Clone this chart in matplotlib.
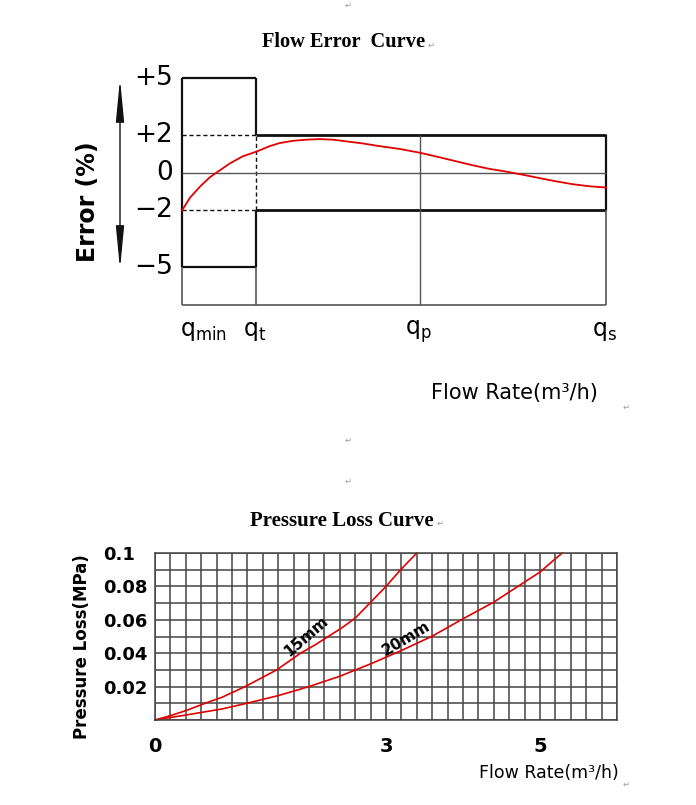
import numpy as np
import matplotlib
matplotlib.use('Agg')
import matplotlib.pyplot as plt

plt.rcParams['mathtext.default'] = 'regular'
SANS = ['DejaVu Sans']
SERIF = ['Liberation Serif', 'DejaVu Serif']

# ---- Flow error curve data (x: qmin=0, qt~1, qp~3.2, qs=5.65) ----
q_names = [r'q$_{min}$', r'q$_t$', r'q$_p$', r'q$_s$']
q_pos = [0.0, 0.99, 3.175, 5.65]
err_ticks = [5, 2, 0, -2, -5]
err_tick_labels = ['+5', '+2', '0', '\u22122', '\u22125']
err_x = [0.0, 0.106, 0.24, 0.37, 0.46, 0.64, 0.81, 1.0, 1.17, 1.30, 1.48, 1.66,
         1.83, 2.01, 2.19, 2.41, 2.63, 2.90, 3.17, 3.43, 3.65, 3.87, 4.09, 4.31,
         4.53, 4.75, 4.98, 5.20, 5.42, 5.65]
err_y = [-2.0, -1.33, -0.74, -0.25, 0.0, 0.49, 0.86, 1.12, 1.40, 1.56, 1.68, 1.74,
         1.77, 1.74, 1.65, 1.54, 1.40, 1.25, 1.05, 0.81, 0.60, 0.39, 0.20, 0.06,
         -0.105, -0.28, -0.46, -0.61, -0.72, -0.79]

# ---- Pressure loss data ----
p15_x = [0, 0.2, 0.4, 0.65, 0.87, 1.17, 1.58, 1.89, 2.08, 2.25, 2.42, 2.6, 2.79, 3.0, 3.19, 3.4]
p15_y = [0, 0.0026, 0.0056, 0.010, 0.0136, 0.020, 0.030, 0.040, 0.045, 0.050,
         0.055, 0.061, 0.070, 0.080, 0.090, 0.100]
p20_x = [0, 0.43, 0.87, 1.21, 1.6, 2.0, 2.4, 2.8, 3.2, 3.6, 4.0, 4.4, 4.8, 5.0, 5.2, 5.29]
p20_y = [0, 0.0032, 0.0066, 0.0102, 0.0146, 0.020, 0.0262, 0.0336, 0.0416, 0.0502,
         0.0606, 0.0706, 0.0826, 0.0886, 0.0966, 0.100]
p_xticks = [0, 3, 5]
p_yticks = [0.02, 0.04, 0.06, 0.08, 0.1]
p_ytick_labels = ['0.02', '0.04', '0.06', '0.08', '0.1']

W, H = 696, 805
fig = plt.figure(figsize=(W / 100, H / 100), dpi=100)


def px(x, y):
    return x / W, 1 - y / H


def ftext(x, y, s, **kw):
    fig.text(*px(x, y), s, **kw)


# paragraph marks
for (mx, my) in [(348, 5), (431, 45), (626, 407), (348, 440), (348, 481), (440, 523), (626, 784)]:
    ftext(mx, my, '\u21b5', fontsize=6, color='#999999', ha='center', va='center')

# ================= top chart =================
ftext(344, 42, 'Flow Error  Curve', fontsize=14.7, fontweight='bold', family=SERIF,
      ha='center', va='center')

ax1 = fig.add_axes([182 / W, 1 - 305 / H, 424 / W, 227 / H])
ax1.set_xlim(0, 5.65)
ax1.set_ylim(-7, 5)
ax1.axis('off')

qmin, qt, qp, qs = q_pos
dark, grey = '#111111', '#555555'
kw = dict(clip_on=False, solid_capstyle='butt')
# left box +-5
ax1.plot([qmin, qt], [5, 5], color=dark, lw=1.6, **kw)
ax1.plot([qmin, qt], [-5, -5], color=dark, lw=1.6, **kw)
ax1.plot([qmin, qmin], [-5, 5], color=dark, lw=1.6, **kw)
ax1.plot([qt, qt], [2, 5], color=dark, lw=1.6, **kw)
ax1.plot([qt, qt], [-5, -2], color=dark, lw=1.6, **kw)
ax1.plot([qt, qt], [-2, 2], color=dark, lw=1.0, ls=(0, (3, 2)), **kw)
# right box +-2
ax1.plot([qt, qs], [2, 2], color=dark, lw=2.0, **kw)
ax1.plot([qt, qs], [-2, -2], color=dark, lw=2.0, **kw)
ax1.plot([qs, qs], [-2, 2], color=dark, lw=1.6, **kw)
# dashed limits in the low zone
ax1.plot([qmin, qt], [2, 2], color=dark, lw=1.0, ls=(0, (3, 2)), **kw)
ax1.plot([qmin, qt], [-2, -2], color=dark, lw=1.0, ls=(0, (3, 2)), **kw)
# thin lines
ax1.plot([qmin, qs], [0, 0], color=grey, lw=1.0, **kw)
ax1.plot([qmin, qs], [-7, -7], color=grey, lw=1.2, **kw)
ax1.plot([qmin, qmin], [-7, -5], color=grey, lw=1.2, **kw)
ax1.plot([qt, qt], [-7, -5], color=grey, lw=1.2, **kw)
ax1.plot([qp, qp], [-7, 2], color=grey, lw=1.0, **kw)
ax1.plot([qs, qs], [-7, -2], color=grey, lw=1.2, **kw)

ax1.plot(err_x, err_y, color='#e00000', lw=1.3, clip_on=False)

for v, lab in zip(err_ticks, err_tick_labels):
    ax1.text(-0.12, v, lab, ha='right', va='center', fontsize=19, family=SANS)

# q labels
ax1.text(qmin - 0.03, -8.4, q_names[0], ha='left', va='center', fontsize=17, family=SANS)
for name, pos in zip(q_names[1:], q_pos[1:]):
    ax1.text(pos - 0.02, -8.4, name, ha='center', va='center', fontsize=17, family=SANS)

# error label + double arrow
ftext(88, 202, 'Error (%)', rotation=90, fontsize=17, fontweight='bold',
      family=SANS, ha='center', va='center')
fig.add_artist(matplotlib.patches.FancyArrowPatch(
    px(120, 76), px(120, 272), transform=fig.transFigure,
    arrowstyle='<|-|>,head_length=2.6,head_width=0.25', mutation_scale=10,
    color='#111111', lw=1.0))

ftext(514, 393, 'Flow Rate(m\u00b3/h)', fontsize=15, family=SANS,
      ha='center', va='center')

# ================= bottom chart =================
ftext(342, 521, 'Pressure Loss Curve', fontsize=15, fontweight='bold', family=SERIF,
      ha='center', va='center')

ax2 = fig.add_axes([155 / W, 1 - 720 / H, 462 / W, 167 / H])
ax2.set_xlim(0, 6)
ax2.set_ylim(0, 0.1)
ax2.set_xticks(np.arange(0, 6.01, 0.2), minor=True)
ax2.set_yticks(np.arange(0, 0.1001, 0.01), minor=True)
ax2.set_xticks(p_xticks)
ax2.set_xticklabels([str(t) for t in p_xticks], fontsize=14, fontweight='bold', family=SANS)
ax2.set_yticks(p_yticks)
ax2.set_yticklabels(p_ytick_labels, fontsize=13, fontweight='bold', family=SANS, ha='left')
ax2.tick_params(axis='both', which='both', length=0)
ax2.tick_params(axis='y', pad=37)
ax2.tick_params(axis='x', pad=12)
ax2.grid(which='both', color='#444444', lw=1.1)
for sp in ax2.spines.values():
    sp.set_color('#444444')
    sp.set_linewidth(1.1)

ax2.plot(p15_x, p15_y, color='#e00000', lw=1.2, clip_on=False)
ax2.plot(p20_x, p20_y, color='#e00000', lw=1.2, clip_on=False)
ax2.text(1.96, 0.050, '15mm', rotation=41, fontsize=11, fontweight='bold', family=SANS,
         ha='center', va='center')
ax2.text(3.26, 0.049, '20mm', rotation=31, fontsize=11, fontweight='bold', family=SANS,
         ha='center', va='center')

ftext(82, 647, 'Pressure Loss(MPa)', rotation=90, fontsize=12, fontweight='bold',
      family=SANS, ha='center', va='center')
ftext(549, 773, 'Flow Rate(m\u00b3/h)', fontsize=12.5, family=SANS,
      ha='center', va='center')

fig.savefig('out.png', dpi=100)
